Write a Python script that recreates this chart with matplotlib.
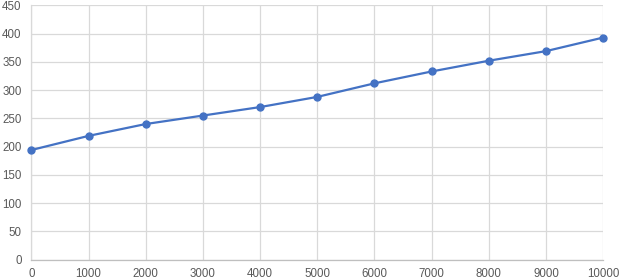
import matplotlib
matplotlib.use("Agg")
import matplotlib.pyplot as plt

# values
x_vals = [0, 1000, 2000, 3000, 4000, 5000, 6000, 7000, 8000, 9000, 10000]
y_vals = [194, 219, 240, 255, 270, 288, 312, 333, 352, 369, 393]
x_ticks = [0, 1000, 2000, 3000, 4000, 5000, 6000, 7000, 8000, 9000, 10000]
y_ticks = [0, 50, 100, 150, 200, 250, 300, 350, 400, 450]

plt.rcParams["font.family"] = ["Liberation Sans", "DejaVu Sans"]

fig = plt.figure(figsize=(6.2, 2.8), dpi=100)
ax = fig.add_axes([0.0505, 0.0725, 0.9225, 0.9085])

ax.plot(x_vals, y_vals, color="#4472C4", linewidth=1.6, marker="o",
        markersize=5, markerfacecolor="#4472C4", markeredgecolor="#4472C4",
        zorder=3, clip_on=False)

ax.set_xlim(0, 10000)
ax.set_ylim(0, 450)
ax.set_xticks(x_ticks)
ax.set_yticks(y_ticks)

ax.grid(True, color="#D9D9D9", linewidth=0.9)
ax.set_axisbelow(True)
ax.tick_params(length=0, labelsize=8.3, colors="#595959", pad=6)
ax.tick_params(axis="y", pad=7)

for side in ["top", "right"]:
    ax.spines[side].set_visible(False)
ax.spines["left"].set_color("#D9D9D9")
ax.spines["bottom"].set_color("#BFBFBF")
ax.spines["left"].set_linewidth(0.9)
ax.spines["bottom"].set_linewidth(0.9)

fig.savefig("out.png", dpi=100)
